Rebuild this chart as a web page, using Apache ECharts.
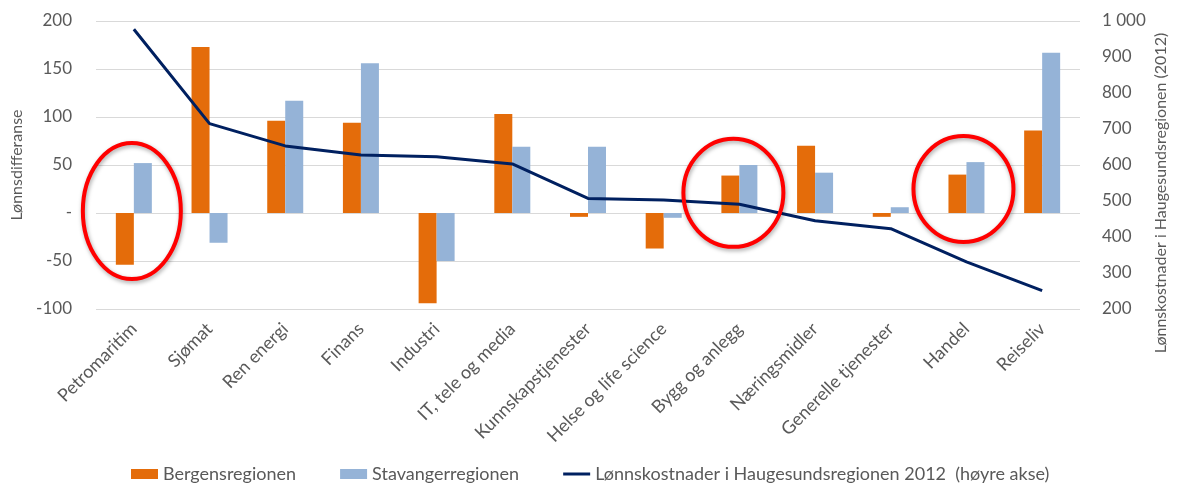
<!DOCTYPE html>
<html>
<head>
<meta charset="utf-8">
<script src="https://cdn.jsdelivr.net/npm/echarts@6/dist/echarts.min.js"></script>
<style>
  html, body { margin: 0; padding: 0; background: #ffffff; }
  #view { width: 1180px; height: 486px; }
</style>
</head>
<body>
<div id="view"></div>
<script>
// data
var categories = ["Petromaritim", "Sjømat", "Ren energi", "Finans", "Industri", "IT, tele og media",
  "Kunnskapstjenester", "Helse og life science", "Bygg og anlegg", "Næringsmidler",
  "Generelle tjenester", "Handel", "Reiseliv"];
var bergen = [-54, 173, 96, 94, -94, 103, -4, -37, 39, 70, -4, 40, 86];
var stavanger = [52, -31, 117, 156, -50, 69, 69, -5, 50, 42, 6, 53, 167];
var haugesund = [977, 715, 653, 628, 623, 603, 507, 503, 491, 445, 423, 331, 251];

// categories circled in red in the original
var circled = ["Petromaritim", "Bygg og anlegg", "Handel"];

var textColor = "#595959";
var font = "Lato, 'Liberation Sans', sans-serif";

var myChart = echarts.init(document.getElementById("view"));

var option = {
  backgroundColor: "#ffffff",
  animation: false,
  textStyle: { fontFamily: font, color: textColor },
  grid: { left: 96, right: 100, top: 21, bottom: 177 },
  legend: {
    top: 460,
    left: 126,
    itemGap: 44,
    itemWidth: 27,
    itemHeight: 10,
    symbolKeepAspect: true,
    textStyle: { fontFamily: font, fontSize: 18, color: textColor },
    data: [
      { name: "Bergensregionen", icon: "rect" },
      { name: "Stavangerregionen", icon: "rect" },
      { name: "Lønnskostnader i Haugesundsregionen 2012  (høyre akse)", icon: "path://M0,0 L27,0 L27,3 L0,3 Z" }
    ]
  },
  xAxis: {
    type: "category",
    data: categories,
    axisLine: { show: false, onZero: false },
    axisTick: { show: false },
    axisLabel: { rotate: 45, interval: 0, margin: 17, fontSize: 18, color: textColor, fontFamily: font }
  },
  yAxis: [
    {
      type: "value",
      min: -100, max: 200, interval: 50,
      name: "Lønnsdifferanse",
      nameLocation: "middle",
      nameGap: 67,
      nameRotate: 90,
      nameTextStyle: { fontSize: 16, color: textColor, fontFamily: font },
      axisLine: { show: false },
      axisTick: { show: false },
      axisLabel: {
        margin: 24, fontSize: 17, color: textColor, fontFamily: font,
        formatter: function (v) { return v === 0 ? "-" : String(v); }
      },
      splitLine: { lineStyle: { color: "#d9d9d9", width: 1 } }
    },
    {
      type: "value",
      position: "right",
      min: 200, max: 1000, interval: 100,
      axisLine: { show: false },
      axisTick: { show: false },
      splitLine: { show: false },
      axisLabel: {
        margin: 22, fontSize: 17, color: textColor, fontFamily: font,
        formatter: function (v) { return v >= 1000 ? "1 000" : String(v); }
      }
    }
  ],
  series: [
    {
      name: "Bergensregionen", type: "bar", data: bergen,
      barWidth: 18, barGap: "0%",
      itemStyle: { color: "#e46c0a" }
    },
    {
      name: "Stavangerregionen", type: "bar", data: stavanger,
      barWidth: 18, barGap: "0%",
      itemStyle: { color: "#95b3d7" }
    },
    {
      name: "Lønnskostnader i Haugesundsregionen 2012  (høyre akse)", type: "line",
      yAxisIndex: 1, data: haugesund,
      symbol: "none", smooth: false,
      lineStyle: { color: "#002060", width: 3 },
      itemStyle: { color: "#002060" }
    }
  ]
};
myChart.setOption(option);

// red ellipses + right axis title, placed from the axes
var graphics = [];
var ellipseSpec = [
  { offX: -2, val: 2, rx: 49, ry: 68 },
  { offX: -6, val: 21, rx: 50, ry: 54 },
  { offX: -3, val: 25, rx: 50, ry: 53 }
];
circled.forEach(function (name, i) {
  var p = myChart.convertToPixel({ xAxisIndex: 0, yAxisIndex: 0 }, [name, ellipseSpec[i].val]);
  graphics.push({
    type: "ellipse",
    shape: { cx: p[0] + ellipseSpec[i].offX, cy: p[1], rx: ellipseSpec[i].rx, ry: ellipseSpec[i].ry },
    style: {
      fill: "none", stroke: "#ff0000", lineWidth: 4,
      shadowBlur: 4, shadowColor: "rgba(0,0,0,0.35)", shadowOffsetX: 1, shadowOffsetY: 2
    },
    z: 100
  });
});
graphics.push({
  type: "text",
  x: 1161, y: 193,
  rotation: Math.PI / 2,
  style: {
    text: "Lønnskostnader i Haugesundsregionen (2012)",
    fill: textColor, font: "16px " + font,
    align: "center", verticalAlign: "middle"
  }
});
myChart.setOption({ graphic: graphics });
</script>
</body>
</html>
